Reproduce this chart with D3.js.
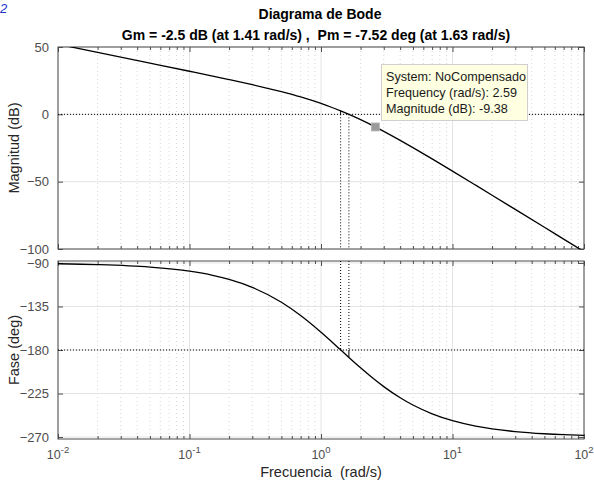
<!DOCTYPE html>
<html><head><meta charset="utf-8">
<script src="https://cdn.jsdelivr.net/npm/d3@7"></script>
<style>body{margin:0;background:#fff}svg{display:block;font-family:"Liberation Sans",Arial,sans-serif}</style>
</head><body><svg id="c" width="594" height="482"></svg>
<script>
const freqs = [0.01,0.02,0.05,0.1,0.15,0.2,0.3,0.5,0.7,1,1.2,1.41,1.6,2,2.5,3,4,5,7,10,15,20,30,50,70,100];
const magDb = [52.04,46.02,38.05,31.99,28.40,25.81,22.03,16.83,12.91,8.06,5.25,2.55,0.30,-3.98,-8.61,-12.62,-19.29,-24.69,-33.07,-42.15,-52.60,-60.05,-70.59,-83.88,-92.65,-101.94];
const phaseDeg = [-90.86,-91.72,-94.29,-98.57,-102.82,-107.02,-115.23,-130.60,-144.28,-161.57,-171.16,-179.83,-186.66,-198.43,-209.54,-217.88,-229.40,-236.89,-245.93,-252.98,-258.59,-261.43,-264.28,-266.56,-267.55,-268.28];
const xTickExp = [-2,-1,0,1,2];
const magTicks = [50,0,-50,-100];
const phaseTicks = [-90,-135,-180,-225,-270];
const gmFreq = 1.41, gmMag = 2.5, pmFreq = 1.63, pmPhase = -187.52;
const tipFreq = 2.59, tipMag = -9.38;
const tipLines = ["System: NoCompensado","Frequency (rad/s): 2.59","Magnitude (dB): -9.38"];
const titleLines = ["Diagrama de Bode","Gm = -2.5 dB (at 1.41 rad/s) ,  Pm = -7.52 deg (at 1.63 rad/s)"];

const svg = d3.select("#c");
const x = d3.scaleLog().domain([0.01,100]).range([58,584]);
const yM = d3.scaleLinear().domain([-100,50]).range([249,47]);
const yP = d3.scaleLinear().domain([-272,-88]).range([439,261]);
const axisCol = "#4d4d4d", labCol = "#4d4d4d";

const minorF = [];
for (let e=-2;e<2;e++) for (let k=2;k<=9;k++) minorF.push(k*Math.pow(10,e));
const majorF = xTickExp.map(e=>Math.pow(10,e));

svg.append("defs").html('<clipPath id="cm"><rect x="58" y="47" width="526" height="202"/></clipPath><clipPath id="cp"><rect x="58" y="261" width="526" height="178"/></clipPath>');

function panel(y, ticks){
  const [y1,y0] = y.range();
  const g = svg.append("g");
  g.selectAll(null).data(minorF).join("line")
    .attr("x1",d=>x(d)).attr("x2",d=>x(d)).attr("y1",y0).attr("y2",y1)
    .attr("stroke","#d6d6d6").attr("stroke-width",1).attr("stroke-dasharray","1,3");
  g.selectAll(null).data(majorF).join("line")
    .attr("x1",d=>x(d)).attr("x2",d=>x(d)).attr("y1",y0).attr("y2",y1)
    .attr("stroke","#e3e3e3").attr("stroke-width",1);
  g.selectAll(null).data(ticks).join("line")
    .attr("x1",58).attr("x2",584).attr("y1",d=>y(d)).attr("y2",d=>y(d))
    .attr("stroke","#e3e3e3").attr("stroke-width",1);
  const axL = d3.axisLeft(y).tickValues(ticks).tickSizeInner(-5).tickSizeOuter(0).tickPadding(9);
  const aL = g.append("g").attr("transform","translate(58,0)").call(axL);
  const axR = d3.axisRight(y).tickValues(ticks).tickSizeInner(-5).tickSizeOuter(0).tickFormat("");
  const aR = g.append("g").attr("transform","translate(584,0)").call(axR);
  const axB = d3.axisBottom(x).tickValues(majorF).tickSizeInner(-5).tickSizeOuter(0).tickFormat("");
  const aB = g.append("g").attr("transform",`translate(0,${y1})`).call(axB);
  const axBm = d3.axisBottom(x).tickValues(minorF).tickSizeInner(-3).tickSizeOuter(0).tickFormat("");
  const aBm = g.append("g").attr("transform",`translate(0,${y1})`).call(axBm);
  const axT = d3.axisTop(x).tickValues(majorF).tickSizeInner(-5).tickSizeOuter(0).tickFormat("");
  const aT = g.append("g").attr("transform",`translate(0,${y0})`).call(axT);
  const axTm = d3.axisTop(x).tickValues(minorF).tickSizeInner(-3).tickSizeOuter(0).tickFormat("");
  const aTm = g.append("g").attr("transform",`translate(0,${y0})`).call(axTm);
  [aL,aR,aB,aBm,aT,aTm].forEach(a=>{a.selectAll("line").attr("stroke",axisCol);a.select(".domain").remove();});
  aL.selectAll("text").attr("fill",labCol).attr("font-size",13).attr("font-family","Liberation Sans, Arial, sans-serif");
  g.append("rect").attr("x",58).attr("y",y0).attr("width",526).attr("height",y1-y0)
    .attr("fill","none").attr("stroke",axisCol).attr("stroke-width",1);
  return g;
}
const gm = panel(yM, magTicks);
const gp = panel(yP, phaseTicks);

gm.append("line").attr("x1",58).attr("x2",584).attr("y1",yM(0)).attr("y2",yM(0))
  .attr("stroke","#000").attr("stroke-dasharray","1,2");
gp.append("line").attr("x1",58).attr("x2",584).attr("y1",yP(-180)).attr("y2",yP(-180))
  .attr("stroke","#000").attr("stroke-dasharray","1,2");
[gmFreq,pmFreq].forEach(f=>{
  gm.append("line").attr("x1",x(f)).attr("x2",x(f)).attr("y1",yM(0)).attr("y2",yM(-100))
    .attr("stroke","#000").attr("stroke-dasharray","1,2");
  gp.append("line").attr("x1",x(f)).attr("x2",x(f)).attr("y1",yP(-88)).attr("y2",yP(-180))
    .attr("stroke","#000").attr("stroke-dasharray","1,2");
});
gm.append("line").attr("x1",x(gmFreq)).attr("x2",x(gmFreq)).attr("y1",yM(0)).attr("y2",yM(gmMag)).attr("stroke","#000");
gp.append("line").attr("x1",x(pmFreq)).attr("x2",x(pmFreq)).attr("y1",yP(-180)).attr("y2",yP(pmPhase)).attr("stroke","#000");

const magLine = d3.line().x((d,i)=>x(freqs[i])).y(d=>yM(d)).curve(d3.curveMonotoneX);
const phLine = d3.line().x((d,i)=>x(freqs[i])).y(d=>yP(d)).curve(d3.curveMonotoneX);
gm.append("path").attr("d",magLine(magDb)).attr("clip-path","url(#cm)")
  .attr("fill","none").attr("stroke","#000").attr("stroke-width",1.3);
gp.append("path").attr("d",phLine(phaseDeg)).attr("clip-path","url(#cp)")
  .attr("fill","none").attr("stroke","#000").attr("stroke-width",1.3);

const xl = svg.append("g").attr("fill",labCol).attr("font-size",12.5);
xTickExp.forEach(e=>{
  const t = xl.append("text").attr("x",x(Math.pow(10,e))).attr("y",459).attr("text-anchor","middle");
  t.append("tspan").text("10");
  t.append("tspan").attr("dy",-6).attr("font-size",9.5).text(String(e));
});

svg.append("text").attr("x",321).attr("y",477).attr("text-anchor","middle").attr("font-size",14.5).attr("fill","#262626").attr("xml:space","preserve").text("Frecuencia  (rad/s)");
svg.append("text").attr("transform",`translate(19,${(47+249)/2}) rotate(-90)`).attr("text-anchor","middle").attr("font-size",14.5).attr("fill","#262626").text("Magnitud (dB)");
svg.append("text").attr("transform",`translate(19,${(261+439)/2}) rotate(-90)`).attr("text-anchor","middle").attr("font-size",14.5).attr("fill","#262626").text("Fase (deg)");

svg.append("text").attr("x",320).attr("y",19).attr("text-anchor","middle").attr("font-size",14).attr("font-weight","bold").attr("fill","#000").text(titleLines[0]);
svg.append("text").attr("x",316).attr("y",40).attr("text-anchor","middle").attr("font-size",14).attr("font-weight","bold").attr("fill","#000").attr("xml:space","preserve").text(titleLines[1]);

svg.append("rect").attr("x",x(tipFreq)-4).attr("y",yM(tipMag)-4).attr("width",8).attr("height",8)
  .attr("fill","#9a9a9a").attr("stroke","#b5b5b5").attr("stroke-width",0.8);
svg.append("rect").attr("x",381.5).attr("y",64.5).attr("width",146).attr("height",56)
  .attr("fill","#ffffe1").attr("stroke","#cfcfcf");
tipLines.forEach((s,i)=>svg.append("text").attr("x",386).attr("y",81+i*16).attr("font-size",12.6).attr("fill","#1a1a1a").text(s));

svg.append("text").attr("x",0).attr("y",13).attr("font-size",13).attr("fill","#2233cc").attr("font-style","italic").text("2");
</script></body></html>
